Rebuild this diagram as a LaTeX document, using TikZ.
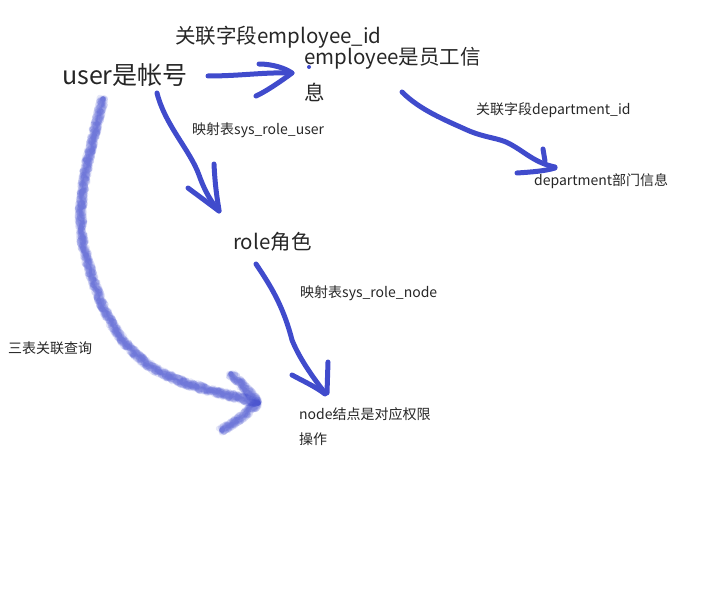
\documentclass[tikz,border=0pt]{standalone}
\usepackage{fontspec}
\setmainfont{Noto Sans CJK SC}
\usetikzlibrary{decorations.pathmorphing}
\definecolor{ink}{RGB}{64,75,204}
\tikzset{
  lbl/.style={anchor=west,inner sep=0pt,text=black!85},
  big/.style={lbl,font=\fontsize{25}{28}\selectfont},
  mid/.style={lbl,font=\fontsize{20.5}{24}\selectfont},
  small/.style={lbl,font=\fontsize{14}{17}\selectfont},
  pen/.style={draw=ink,line width=5pt,line cap=round,line join=round},
  fuzzy/.style={draw=ink,opacity=0.13,line width=5.5pt,line cap=round,line join=round,
    decorate,decoration={random steps,segment length=2pt,amplitude=3.8pt}},
}
\begin{document}
\begin{tikzpicture}[x=1pt,y=-1pt]
\useasboundingbox (0,0) rectangle (710,599);
% texts
\node[big] (user) at (62,75) {user是帐号};
\node[mid] (fld1) at (175,37) {关联字段employee\_id};
\node[mid] (emp1) at (304,58) {employee是员工信};
\node[mid] (emp2) at (304,92) {息};
\node[small] (fld2) at (476,110) {关联字段department\_id};
\node[small] (dept) at (534,181) {department部门信息};
\node[small] (map1) at (192,130) {映射表sys\_role\_user};
\node[mid] (role) at (233,242) {role角色};
\node[small] (map2) at (300,293) {映射表sys\_role\_node};
\node[small] (three) at (8,348) {三表关联查询};
\node[small] (node1) at (299,414) {node结点是对应权限};
\node[small] (node2) at (299,439) {操作};
\fill[ink] (309,67) circle (2pt);
% user -> employee
\draw[pen] (208,76) .. controls (240,76) and (265,72) .. (292,73);
\draw[pen] (259,64) .. controls (272,64) and (285,68) .. (292,73) .. controls (280,82) and (265,92) .. (256,96);
% user -> role
\draw[pen] (157,93) .. controls (165,125) and (190,150) .. (199,175) .. controls (205,192) and (212,203) .. (219,211);
\draw[pen] (188,188) -- (219,211);
\draw[pen] (214,164) .. controls (215,185) and (217,198) .. (219,210);
% role -> node
\draw[pen] (256,264) .. controls (270,285) and (283,305) .. (292,340) .. controls (300,360) and (315,380) .. (325,393);
\draw[pen] (292,375) .. controls (305,382) and (316,387) .. (325,394);
\draw[pen] (328,362) -- (327,393);
% employee -> department
\draw[pen] (402,92) .. controls (420,110) and (445,120) .. (467,130) .. controls (485,138) and (500,138) .. (510,144) .. controls (525,152) and (535,163) .. (555,167);
\draw[pen] (543,149) -- (545,161);
\draw[pen] (517,173) .. controls (532,172) and (545,171) .. (555,168);
% fuzzy arrow
\foreach \s in {1,...,10}{
  \pgfmathsetseed{\s*13}
  \draw[fuzzy] (103,99) .. controls (90,150) and (72,210) .. (86,255) .. controls (100,310) and (120,350) .. (160,372) .. controls (190,388) and (225,393) .. (258,403);
  \draw[fuzzy] (231,374) .. controls (242,385) and (252,395) .. (258,403) .. controls (245,415) and (232,425) .. (222,430);
}
\end{tikzpicture}
\end{document}
